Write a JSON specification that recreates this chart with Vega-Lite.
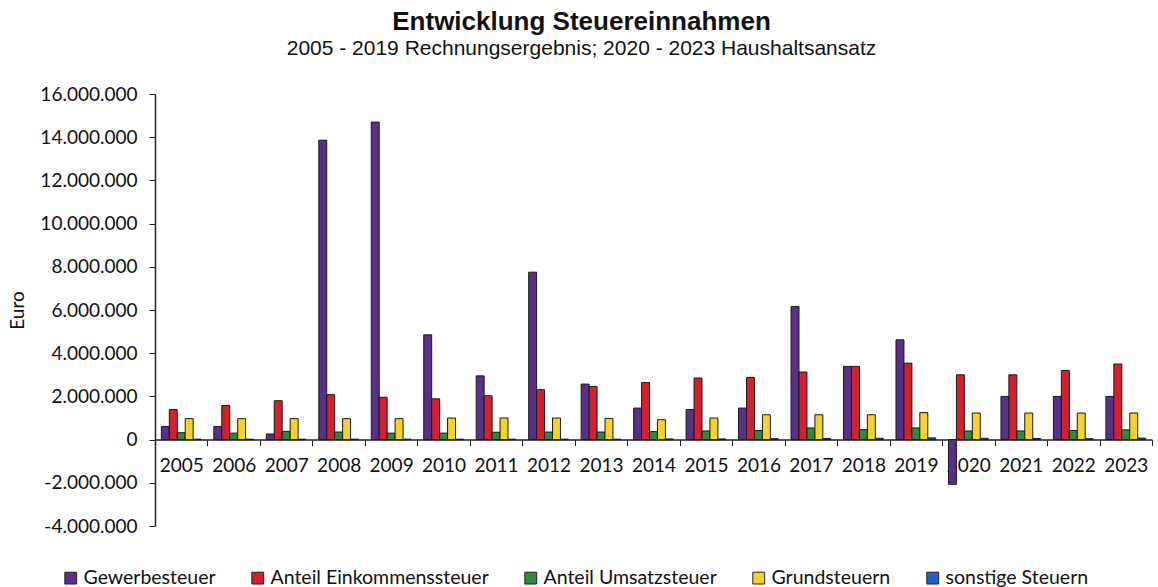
{
  "$schema": "https://vega.github.io/schema/vega-lite/v6.json",
  "autosize": {"type": "none"},
  "padding": {"left": 155, "top": 94, "right": 6, "bottom": 61},
  "width": 997,
  "height": 432,
  "background": "white",
  "config": {
    "locale": {"number": {"decimal": ",", "thousands": ".", "grouping": [3], "currency": ["", " €"], "minus": "-"}},
    "view": {"stroke": null}
  },
  "title": {
    "text": "Entwicklung Steuereinnahmen",
    "subtitle": "2005 - 2019 Rechnungsergebnis; 2020 - 2023 Haushaltsansatz",
    "anchor": "middle",
    "frame": "group",
    "dx": -72,
    "offset": 26,
    "font": "Liberation Sans",
    "fontSize": 26,
    "fontWeight": "bold",
    "color": "#111",
    "subtitleFont": "Liberation Sans",
    "subtitleFontSize": 21,
    "subtitleColor": "#111",
    "subtitlePadding": 3
  },
  "data": {
    "values": [
      {"Jahr": "2005", "Steuer": "Gewerbesteuer", "Euro": 610000},
      {"Jahr": "2006", "Steuer": "Gewerbesteuer", "Euro": 610000},
      {"Jahr": "2007", "Steuer": "Gewerbesteuer", "Euro": 260000},
      {"Jahr": "2008", "Steuer": "Gewerbesteuer", "Euro": 13860000},
      {"Jahr": "2009", "Steuer": "Gewerbesteuer", "Euro": 14700000},
      {"Jahr": "2010", "Steuer": "Gewerbesteuer", "Euro": 4850000},
      {"Jahr": "2011", "Steuer": "Gewerbesteuer", "Euro": 2950000},
      {"Jahr": "2012", "Steuer": "Gewerbesteuer", "Euro": 7750000},
      {"Jahr": "2013", "Steuer": "Gewerbesteuer", "Euro": 2570000},
      {"Jahr": "2014", "Steuer": "Gewerbesteuer", "Euro": 1460000},
      {"Jahr": "2015", "Steuer": "Gewerbesteuer", "Euro": 1390000},
      {"Jahr": "2016", "Steuer": "Gewerbesteuer", "Euro": 1460000},
      {"Jahr": "2017", "Steuer": "Gewerbesteuer", "Euro": 6160000},
      {"Jahr": "2018", "Steuer": "Gewerbesteuer", "Euro": 3390000},
      {"Jahr": "2019", "Steuer": "Gewerbesteuer", "Euro": 4620000},
      {"Jahr": "2020", "Steuer": "Gewerbesteuer", "Euro": -2070000},
      {"Jahr": "2021", "Steuer": "Gewerbesteuer", "Euro": 2000000},
      {"Jahr": "2022", "Steuer": "Gewerbesteuer", "Euro": 2000000},
      {"Jahr": "2023", "Steuer": "Gewerbesteuer", "Euro": 2000000},
      {"Jahr": "2005", "Steuer": "Anteil Einkommenssteuer", "Euro": 1390000},
      {"Jahr": "2006", "Steuer": "Anteil Einkommenssteuer", "Euro": 1580000},
      {"Jahr": "2007", "Steuer": "Anteil Einkommenssteuer", "Euro": 1800000},
      {"Jahr": "2008", "Steuer": "Anteil Einkommenssteuer", "Euro": 2080000},
      {"Jahr": "2009", "Steuer": "Anteil Einkommenssteuer", "Euro": 1960000},
      {"Jahr": "2010", "Steuer": "Anteil Einkommenssteuer", "Euro": 1890000},
      {"Jahr": "2011", "Steuer": "Anteil Einkommenssteuer", "Euro": 2030000},
      {"Jahr": "2012", "Steuer": "Anteil Einkommenssteuer", "Euro": 2310000},
      {"Jahr": "2013", "Steuer": "Anteil Einkommenssteuer", "Euro": 2460000},
      {"Jahr": "2014", "Steuer": "Anteil Einkommenssteuer", "Euro": 2640000},
      {"Jahr": "2015", "Steuer": "Anteil Einkommenssteuer", "Euro": 2850000},
      {"Jahr": "2016", "Steuer": "Anteil Einkommenssteuer", "Euro": 2880000},
      {"Jahr": "2017", "Steuer": "Anteil Einkommenssteuer", "Euro": 3130000},
      {"Jahr": "2018", "Steuer": "Anteil Einkommenssteuer", "Euro": 3390000},
      {"Jahr": "2019", "Steuer": "Anteil Einkommenssteuer", "Euro": 3540000},
      {"Jahr": "2020", "Steuer": "Anteil Einkommenssteuer", "Euro": 3000000},
      {"Jahr": "2021", "Steuer": "Anteil Einkommenssteuer", "Euro": 3000000},
      {"Jahr": "2022", "Steuer": "Anteil Einkommenssteuer", "Euro": 3200000},
      {"Jahr": "2023", "Steuer": "Anteil Einkommenssteuer", "Euro": 3500000},
      {"Jahr": "2005", "Steuer": "Anteil Umsatzsteuer", "Euro": 320000},
      {"Jahr": "2006", "Steuer": "Anteil Umsatzsteuer", "Euro": 300000},
      {"Jahr": "2007", "Steuer": "Anteil Umsatzsteuer", "Euro": 380000},
      {"Jahr": "2008", "Steuer": "Anteil Umsatzsteuer", "Euro": 350000},
      {"Jahr": "2009", "Steuer": "Anteil Umsatzsteuer", "Euro": 300000},
      {"Jahr": "2010", "Steuer": "Anteil Umsatzsteuer", "Euro": 300000},
      {"Jahr": "2011", "Steuer": "Anteil Umsatzsteuer", "Euro": 340000},
      {"Jahr": "2012", "Steuer": "Anteil Umsatzsteuer", "Euro": 350000},
      {"Jahr": "2013", "Steuer": "Anteil Umsatzsteuer", "Euro": 350000},
      {"Jahr": "2014", "Steuer": "Anteil Umsatzsteuer", "Euro": 370000},
      {"Jahr": "2015", "Steuer": "Anteil Umsatzsteuer", "Euro": 400000},
      {"Jahr": "2016", "Steuer": "Anteil Umsatzsteuer", "Euro": 420000},
      {"Jahr": "2017", "Steuer": "Anteil Umsatzsteuer", "Euro": 540000},
      {"Jahr": "2018", "Steuer": "Anteil Umsatzsteuer", "Euro": 460000},
      {"Jahr": "2019", "Steuer": "Anteil Umsatzsteuer", "Euro": 540000},
      {"Jahr": "2020", "Steuer": "Anteil Umsatzsteuer", "Euro": 400000},
      {"Jahr": "2021", "Steuer": "Anteil Umsatzsteuer", "Euro": 400000},
      {"Jahr": "2022", "Steuer": "Anteil Umsatzsteuer", "Euro": 420000},
      {"Jahr": "2023", "Steuer": "Anteil Umsatzsteuer", "Euro": 450000},
      {"Jahr": "2005", "Steuer": "Grundsteuern", "Euro": 970000},
      {"Jahr": "2006", "Steuer": "Grundsteuern", "Euro": 970000},
      {"Jahr": "2007", "Steuer": "Grundsteuern", "Euro": 970000},
      {"Jahr": "2008", "Steuer": "Grundsteuern", "Euro": 970000},
      {"Jahr": "2009", "Steuer": "Grundsteuern", "Euro": 970000},
      {"Jahr": "2010", "Steuer": "Grundsteuern", "Euro": 1000000},
      {"Jahr": "2011", "Steuer": "Grundsteuern", "Euro": 1000000},
      {"Jahr": "2012", "Steuer": "Grundsteuern", "Euro": 1000000},
      {"Jahr": "2013", "Steuer": "Grundsteuern", "Euro": 980000},
      {"Jahr": "2014", "Steuer": "Grundsteuern", "Euro": 920000},
      {"Jahr": "2015", "Steuer": "Grundsteuern", "Euro": 1000000},
      {"Jahr": "2016", "Steuer": "Grundsteuern", "Euro": 1150000},
      {"Jahr": "2017", "Steuer": "Grundsteuern", "Euro": 1150000},
      {"Jahr": "2018", "Steuer": "Grundsteuern", "Euro": 1150000},
      {"Jahr": "2019", "Steuer": "Grundsteuern", "Euro": 1250000},
      {"Jahr": "2020", "Steuer": "Grundsteuern", "Euro": 1230000},
      {"Jahr": "2021", "Steuer": "Grundsteuern", "Euro": 1230000},
      {"Jahr": "2022", "Steuer": "Grundsteuern", "Euro": 1230000},
      {"Jahr": "2023", "Steuer": "Grundsteuern", "Euro": 1230000},
      {"Jahr": "2005", "Steuer": "sonstige Steuern", "Euro": 20000},
      {"Jahr": "2006", "Steuer": "sonstige Steuern", "Euro": 20000},
      {"Jahr": "2007", "Steuer": "sonstige Steuern", "Euro": 20000},
      {"Jahr": "2008", "Steuer": "sonstige Steuern", "Euro": 20000},
      {"Jahr": "2009", "Steuer": "sonstige Steuern", "Euro": 20000},
      {"Jahr": "2010", "Steuer": "sonstige Steuern", "Euro": 20000},
      {"Jahr": "2011", "Steuer": "sonstige Steuern", "Euro": 20000},
      {"Jahr": "2012", "Steuer": "sonstige Steuern", "Euro": 20000},
      {"Jahr": "2013", "Steuer": "sonstige Steuern", "Euro": 20000},
      {"Jahr": "2014", "Steuer": "sonstige Steuern", "Euro": 30000},
      {"Jahr": "2015", "Steuer": "sonstige Steuern", "Euro": 30000},
      {"Jahr": "2016", "Steuer": "sonstige Steuern", "Euro": 40000},
      {"Jahr": "2017", "Steuer": "sonstige Steuern", "Euro": 50000},
      {"Jahr": "2018", "Steuer": "sonstige Steuern", "Euro": 60000},
      {"Jahr": "2019", "Steuer": "sonstige Steuern", "Euro": 80000},
      {"Jahr": "2020", "Steuer": "sonstige Steuern", "Euro": 60000},
      {"Jahr": "2021", "Steuer": "sonstige Steuern", "Euro": 50000},
      {"Jahr": "2022", "Steuer": "sonstige Steuern", "Euro": 40000},
      {"Jahr": "2023", "Steuer": "sonstige Steuern", "Euro": 70000}
    ]
  },
  "mark": {"type": "bar", "stroke": "#1a1a1a", "strokeWidth": 1},
  "encoding": {
    "x": {
      "field": "Jahr",
      "type": "nominal",
      "sort": null,
      "scale": {"paddingInner": 0, "paddingOuter": 0},
      "axis": {
        "title": null,
        "orient": "bottom",
        "offset": -86.4,
        "labelAngle": 0,
        "labelFont": "Lato",
        "labelFontSize": 19,
        "labelColor": "#111",
        "labelPadding": 11,
        "tickBand": "extent",
        "tickSize": 6,
        "tickColor": "#222",
        "domainColor": "#222",
        "domainWidth": 1.5
      }
    },
    "xOffset": {
      "field": "Steuer",
      "type": "nominal",
      "sort": ["Gewerbesteuer", "Anteil Einkommenssteuer", "Anteil Umsatzsteuer", "Grundsteuern", "sonstige Steuern"],
      "scale": {"paddingInner": 0, "paddingOuter": 0.8}
    },
    "y": {
      "field": "Euro",
      "type": "quantitative",
      "scale": {"domain": [-4000000, 16000000], "nice": false, "zero": true},
      "axis": {
        "title": "Euro",
        "titleFont": "Lato",
        "titleFontSize": 19,
        "titleFontWeight": "normal",
        "titleColor": "#111",
        "titlePadding": 12,
        "values": [-4000000, -2000000, 0, 2000000, 4000000, 6000000, 8000000, 10000000, 12000000, 14000000, 16000000],
        "format": ",.0f",
        "labelFont": "Lato",
        "labelFontSize": 19,
        "labelColor": "#111",
        "labelPadding": 12,
        "grid": false,
        "tickSize": 6,
        "tickColor": "#222",
        "domainColor": "#222",
        "domainWidth": 1.5
      }
    },
    "color": {
      "field": "Steuer",
      "type": "nominal",
      "sort": ["Gewerbesteuer", "Anteil Einkommenssteuer", "Anteil Umsatzsteuer", "Grundsteuern", "sonstige Steuern"],
      "scale": {
        "domain": ["Gewerbesteuer", "Anteil Einkommenssteuer", "Anteil Umsatzsteuer", "Grundsteuern", "sonstige Steuern"],
        "range": ["#58308a", "#d4202c", "#2f8a3c", "#f6d22a", "#1f60d0"]
      },
      "legend": {
        "title": null,
        "orient": "none",
        "direction": "horizontal",
        "legendX": -94,
        "legendY": 474,
        "symbolType": "square",
        "symbolSize": 140,
        "symbolStrokeColor": "#222",
        "symbolStrokeWidth": 1,
        "labelFont": "Lato",
        "labelFontSize": 19.5,
        "labelColor": "#111",
        "labelOffset": 3,
        "labelLimit": 400,
        "columnPadding": 32
      }
    }
  }
}
